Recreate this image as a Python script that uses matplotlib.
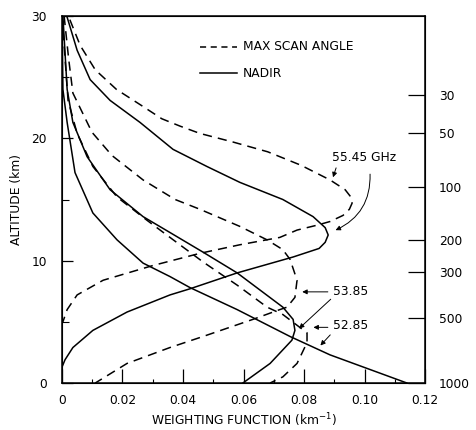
import matplotlib
matplotlib.use("Agg")
import matplotlib.pyplot as plt
from matplotlib.ticker import MultipleLocator, FixedLocator

# weighting function (km^-1) vs altitude (km)
nadir_5545_w = [0.0017, 0.005, 0.0093, 0.0159, 0.0258, 0.0367, 0.0479, 0.0588, 0.073, 0.083,
                0.087, 0.088, 0.087, 0.085, 0.0764, 0.0579, 0.0423, 0.0357, 0.0215, 0.0102,
                0.0036, 0.001, 0.0]
nadir_5545_z = [29.9, 27.2, 24.8, 23.1, 21.3, 19.1, 17.7, 16.4, 15.0, 13.6,
                12.7, 12.1, 11.5, 11.0, 10.3, 9.0, 7.7, 7.2, 5.8, 4.3,
                2.9, 1.9, 1.3]

scan_5545_w = [0.0026, 0.006, 0.011, 0.018, 0.0268, 0.033, 0.039, 0.0456, 0.0565, 0.068,
               0.079, 0.0886, 0.0936, 0.0955, 0.0959, 0.095, 0.0929, 0.0886, 0.0843, 0.0777,
               0.072, 0.0588, 0.0456, 0.030, 0.0136, 0.005, 0.0017, 0.0003]
scan_5545_z = [29.7, 27.6, 25.6, 24.0, 22.6, 21.6, 21.0, 20.4, 19.7, 18.9,
               17.8, 16.6, 15.8, 15.2, 14.7, 14.2, 13.7, 13.2, 12.9, 12.5,
               11.9, 11.3, 10.6, 9.6, 8.4, 7.2, 6.0, 5.0]

nadir_5385_w = [0.0003, 0.0017, 0.0036, 0.0083, 0.0159, 0.0268, 0.0357, 0.0466, 0.0579, 0.073,
                0.0764, 0.077, 0.076, 0.0688, 0.0598]
nadir_5385_z = [30.0, 24.0, 21.3, 18.5, 15.8, 13.6, 12.3, 10.7, 9.0, 6.2,
                5.2, 4.3, 3.5, 1.6, 0.0]

scan_5385_w = [0.0007, 0.0022, 0.0036, 0.0099, 0.0165, 0.0268, 0.0374, 0.0456, 0.0588, 0.0678,
               0.073, 0.0754, 0.0777, 0.077, 0.0744, 0.072, 0.0631, 0.0466, 0.0357, 0.0215,
               0.011]
scan_5385_z = [30.0, 26.5, 23.7, 20.5, 18.6, 16.6, 15.0, 14.2, 12.8, 11.7,
               10.9, 10.1, 8.4, 7.0, 6.2, 6.0, 5.2, 3.8, 2.9, 1.6,
               0.0]

nadir_5285_w = [0.0, 0.0003, 0.0017, 0.0043, 0.0102, 0.0182, 0.0268, 0.0357, 0.0423, 0.0579,
                0.0754, 0.0886, 0.114]
nadir_5285_z = [30.0, 24.0, 21.3, 17.2, 13.9, 11.7, 9.8, 8.7, 7.8, 6.0,
                3.8, 2.3, 0.0]

scan_5285_w = [0.0, 0.002, 0.005, 0.0102, 0.0182, 0.0281, 0.0357, 0.0466, 0.0579, 0.0678,
               0.073, 0.081, 0.081, 0.0777, 0.073, 0.0688]
scan_5285_z = [30.0, 23.1, 20.4, 17.7, 15.2, 13.3, 11.9, 9.9, 8.0, 6.2,
               5.6, 4.1, 3.3, 1.6, 0.5, 0.0]

# right axis: pressure (mb) and the altitude where each tick sits
pressure_labels = ["30", "50", "100", "200", "300", "500", "1000"]
pressure_alt = [23.55, 20.44, 16.03, 11.69, 9.08, 5.31, 0.0]

plt.rcParams['font.family'] = ['DejaVu Sans']
fs = 8.8

fig = plt.figure(figsize=(4.77, 4.30), dpi=100)
ax = fig.add_axes([62 / 477, 47 / 430, 363 / 477, 367 / 430])

dash = (0, (6, 4))
kw = dict(color='black', lw=1.1, clip_on=True)
ax.plot(nadir_5545_w, nadir_5545_z, '-', **kw)
ax.plot(nadir_5385_w, nadir_5385_z, '-', **kw)
ax.plot(nadir_5285_w, nadir_5285_z, '-', **kw)
ax.plot(scan_5545_w, scan_5545_z, linestyle=dash, **kw)
ax.plot(scan_5385_w, scan_5385_z, linestyle=dash, **kw)
ax.plot(scan_5285_w, scan_5285_z, linestyle=dash, **kw)

ax.set_xlim(0, 0.12)
ax.set_ylim(0, 30)
ax.set_xticks([0, 0.02, 0.04, 0.06, 0.08, 0.10, 0.12])
ax.set_xticklabels(["0", "0.02", "0.04", "0.06", "0.08", "0.10", "0.12"])
ax.set_yticks([0, 10, 20, 30])
ax.xaxis.set_minor_locator(MultipleLocator(0.01))
ax.yaxis.set_minor_locator(MultipleLocator(5))
ax.tick_params(axis='x', which='major', direction='in', length=10, width=0.9,
               labelsize=fs, pad=8, top=False)
ax.tick_params(axis='x', which='minor', direction='in', length=3, width=0.8, top=False)
ax.tick_params(axis='y', which='major', direction='in', length=8, width=0.9,
               labelsize=fs, pad=11)
ax.tick_params(axis='y', which='minor', direction='in', length=5, width=0.8)
for s in ax.spines.values():
    s.set_linewidth(1.1)

ax.set_xlabel("WEIGHTING FUNCTION (km$^{-1}$)", fontsize=fs, labelpad=3)
ax.set_ylabel("ALTITUDE (km)", fontsize=fs, labelpad=6)

# pressure axis on the right
ax2 = ax.twinx()
ax2.set_ylim(0, 30)
ax2.yaxis.set_major_locator(FixedLocator(pressure_alt))
ax2.set_yticklabels(pressure_labels)
ax2.tick_params(axis='y', direction='in', length=12, width=0.9, labelsize=fs, pad=10)

# legend drawn by hand
ax.plot([0.0456, 0.0578], [27.5, 27.5], color='black', lw=1.1, linestyle=(0, (4, 3)))
ax.plot([0.0456, 0.0578], [25.3, 25.3], color='black', lw=1.1)
ax.text(0.0598, 27.5, "MAX SCAN ANGLE", fontsize=fs, va='center', ha='left')
ax.text(0.0598, 25.3, "NADIR", fontsize=fs, va='center', ha='left')

# frequency labels with arrows
ap = dict(arrowstyle='-|>', color='black', lw=0.7, mutation_scale=7)
ax.text(0.0893, 18.4, "55.45 GHz", fontsize=fs, va='center', ha='left')
ax.annotate("", xy=(0.0893, 16.6), xytext=(0.0909, 17.8), arrowprops=ap)
ax.annotate("", xy=(0.0896, 12.4), xytext=(0.1018, 17.3),
            arrowprops=dict(ap, connectionstyle="arc3,rad=-0.35"))

ax.text(0.0895, 7.45, "53.85", fontsize=fs, va='center', ha='left')
ax.annotate("", xy=(0.0785, 7.45), xytext=(0.0888, 7.45), arrowprops=ap)
ax.annotate("", xy=(0.0777, 4.3), xytext=(0.0895, 7.0), arrowprops=ap)

ax.text(0.0895, 4.66, "52.85", fontsize=fs, va='center', ha='left')
ax.annotate("", xy=(0.0822, 4.55), xytext=(0.0888, 4.55), arrowprops=ap)
ax.annotate("", xy=(0.0848, 2.9), xytext=(0.0893, 4.1), arrowprops=ap)

fig.savefig("out.png", dpi=100)
